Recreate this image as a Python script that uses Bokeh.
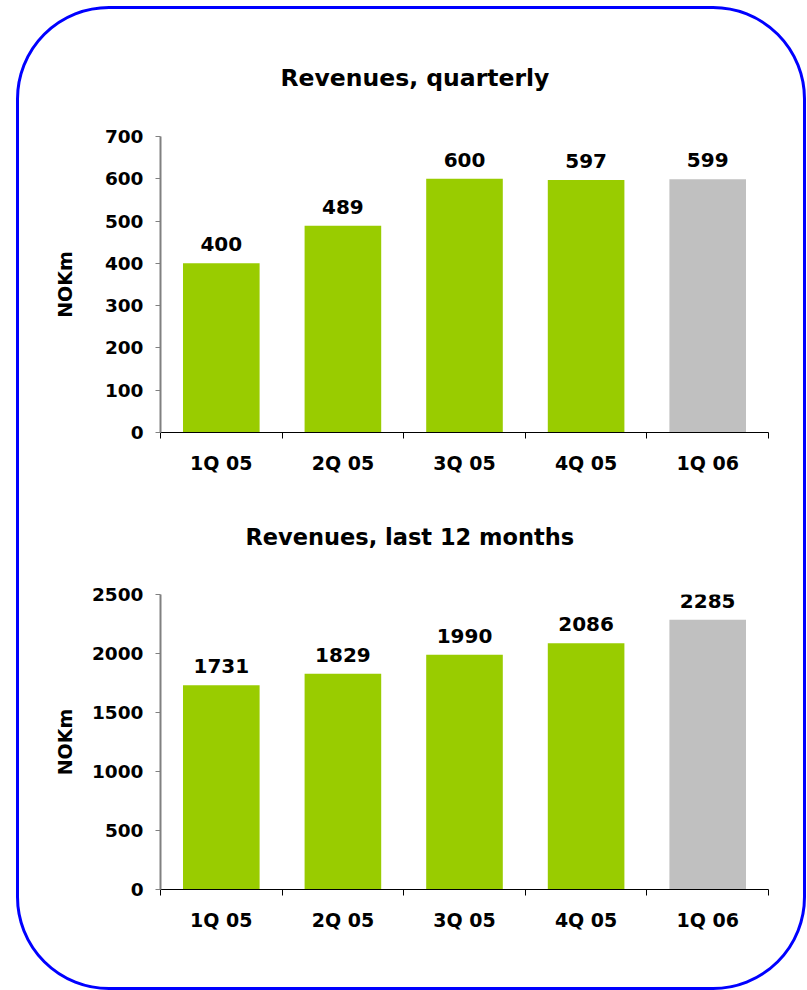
from bokeh.plotting import figure
from bokeh.layouts import column
from bokeh.models import Range1d, FixedTicker, ColumnDataSource
from bokeh.core.properties import value
from bokeh.embed import file_html
from bokeh.resources import INLINE

categories = ["1Q 05", "2Q 05", "3Q 05", "4Q 05", "1Q 06"]
quarterly = [400, 489, 600, 597, 599]
last12 = [1731, 1829, 1990, 2086, 2285]
quarterly_ticks = [0, 100, 200, 300, 400, 500, 600, 700]
last12_ticks = [0, 500, 1000, 1500, 2000, 2500]

GREEN = "#99CC00"
GREY = "#C0C0C0"
FONT = "DejaVu Sans"


def make_chart(title, values, ticks, height, top, bottom, label_standoff,
               title_size, title_offset):
    xs = list(range(len(categories)))
    colors = [GREY if c == categories[-1] else GREEN for c in categories]
    src = ColumnDataSource(dict(x=xs, top=values, color=colors,
                                label=[str(v) for v in values]))
    p = figure(width=784, height=height, output_backend="svg",
               toolbar_location=None, tools="",
               x_range=Range1d(-0.5, len(categories) - 0.5),
               y_range=Range1d(ticks[0], ticks[-1]),
               min_border_left=141, min_border_right=35,
               min_border_top=top, min_border_bottom=bottom,
               title=title)
    p.outline_line_color = None
    p.grid.grid_line_color = None
    p.background_fill_color = "white"
    p.border_fill_color = None

    p.title.align = "left"
    p.title.offset = title_offset
    p.title.text_font = FONT
    p.title.text_font_style = "bold"
    p.title.text_font_size = title_size
    p.title.text_color = "black"
    p.title.standoff = 90

    p.vbar(x="x", top="top", width=0.63, bottom=0, fill_color="color",
           line_color=None, source=src)
    p.text(x="x", y="top", text="label", source=src,
           text_align="center", text_baseline="middle", y_offset=-19,
           text_font=value(FONT), text_font_style="bold",
           text_font_size="20px", text_color="black")

    xa = p.xaxis[0]
    xa.ticker = FixedTicker(ticks=xs,
                            minor_ticks=[i - 0.5 for i in range(len(categories) + 1)])
    xa.major_label_overrides = {i: c for i, c in enumerate(categories)}
    xa.major_tick_line_color = None
    xa.minor_tick_in = 0
    xa.minor_tick_out = 6
    xa.minor_tick_line_color = "black"
    xa.axis_line_color = "black"
    xa.axis_line_width = 1
    xa.major_label_text_font = FONT
    xa.major_label_text_font_style = "bold"
    xa.major_label_text_font_size = "19px"
    xa.major_label_text_color = "black"
    xa.major_label_standoff = 13

    ya = p.yaxis[0]
    ya.ticker = FixedTicker(ticks=ticks, minor_ticks=[])
    ya.axis_line_color = "#808080"
    ya.axis_line_width = 2
    ya.major_tick_in = 0
    ya.major_tick_out = 5
    ya.major_tick_line_color = "#808080"
    ya.minor_tick_line_color = None
    ya.major_label_text_font = FONT
    ya.major_label_text_font_style = "bold"
    ya.major_label_text_font_size = "18.5px"
    ya.major_label_text_color = "black"
    ya.major_label_standoff = 12
    ya.axis_label = "NOKm"
    ya.axis_label_text_font = FONT
    ya.axis_label_text_font_style = "bold"
    ya.axis_label_text_font_size = "19px"
    ya.axis_label_text_color = "black"
    ya.axis_label_standoff = label_standoff
    return p


p1 = make_chart("Revenues, quarterly", quarterly, quarterly_ticks,
                467, 127, 44, 26, "23.5px", 120)
p2 = make_chart("Revenues, last 12 months", last12, last12_ticks,
                511, 117, 98, 13, "22.5px", 85)

layout = column(p1, p2, margin=(6, 0, 0, 16),
                styles={"border": "3px solid #0000FF",
                        "border-radius": "93px",
                        "background-color": "white"})

open("out.html", "w").write(file_html(layout, INLINE))
